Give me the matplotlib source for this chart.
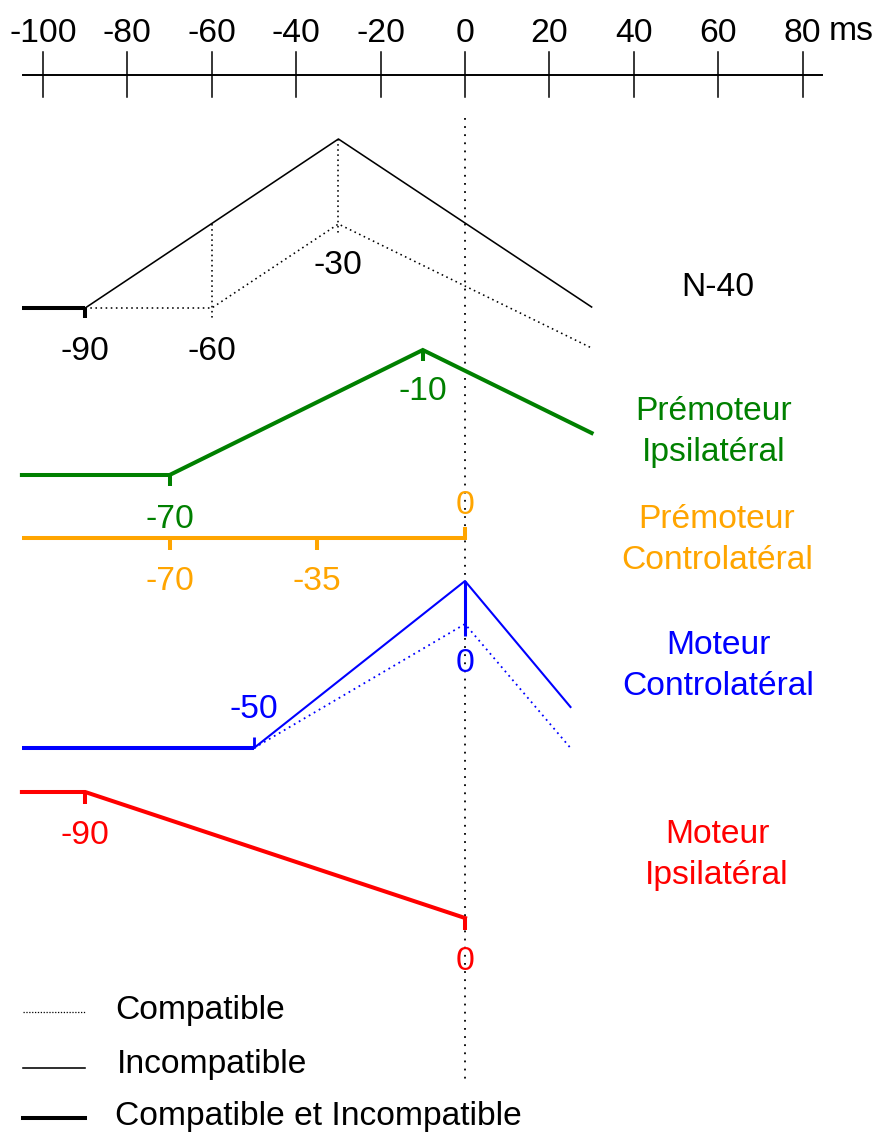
import matplotlib
matplotlib.use("Agg")
import matplotlib.pyplot as plt

plt.rcParams['font.family'] = ['Liberation Sans', 'DejaVu Sans']

# ---- data (ms) ----
axis_ticks = [-100, -80, -60, -40, -20, 0, 20, 40, 60, 80]

# N-40
n40_base_t = [-105, -90]
n40_incomp_t = [-90, -30, 30]
n40_incomp_a = [0, 169, 1]
n40_comp_t = [-90, -60, -30, 30]
n40_comp_a = [0, 0, 84, -40]
n40_labels = [-90, -60, -30]

# Prémoteur Ipsilatéral
pmi_t = [-105, -70, -10, 30]
pmi_a = [0, 0, 125, 42]
pmi_labels = [-70, -10]

# Prémoteur Controlatéral
pmc_t = [-105, 0]
pmc_a = [0, 0]
pmc_labels = [-70, -35, 0]

# Moteur Controlatéral
mc_base_t = [-105, -50]
mc_incomp_t = [-50, 0, 25]
mc_incomp_a = [0, 167, 41]
mc_comp_t = [-50, 0, 25]
mc_comp_a = [0, 124, 0]
mc_labels = [-50, 0]

# Moteur Ipsilatéral
mi_t = [-105, -90, 0]
mi_a = [0, 0, -126]
mi_labels = [-90, 0]

names = ["N-40", "Prémoteur\nIpsilatéral", "Prémoteur\nControlatéral",
         "Moteur\nControlatéral", "Moteur\nIpsilatéral"]
legend_labels = ["Compatible", "Incompatible", "Compatible et Incompatible"]

# ---- layout ----
W, H = 884, 1137
fig = plt.figure(figsize=(W / 100, H / 100), dpi=100)
ax = fig.add_axes([0, 0, 1, 1])
PX = 4.22  # px per ms
x0 = 465
ax.set_xlim(-x0 / PX, (W - x0) / PX)
ax.set_ylim(H, 0)
ax.axis('off')

FS = 24.2
THICK = 2.9
THIN = 1.15
DOT = (0, (1, 2.2))
LS2 = 1.38

GREEN = '#008000'
ORANGE = '#FFA500'
BLUE = '#0000FF'
RED = '#FF0000'

def px_to_ms(p):
    return (p - x0) / PX

# top axis
ax.plot([-104.7, 84.6], [75, 75], color='black', lw=1.4)
for t in axis_ticks:
    ax.plot([t, t], [52, 97], color='black', lw=1.1)
    ax.text(t, 33, str(t), ha='center', va='center', fontsize=FS)
ax.text(px_to_ms(851), 31, "ms", ha='center', va='center', fontsize=FS)

# zero dotted line
ax.plot([0, 0], [118, 1082], color='black', lw=1.3, linestyle=(0, (1, 3.5)))

def lvl(base, a):
    return [base - v for v in a]

# ---- N-40 ----
b = 308
ax.plot(n40_base_t, [b, b], color='black', lw=THICK, solid_capstyle='butt')
ax.plot([-90, -90], [b, b + 10], color='black', lw=THICK, solid_capstyle='butt')
ax.plot(n40_incomp_t, lvl(b, n40_incomp_a), color='black', lw=THIN)
ax.plot(n40_comp_t, lvl(b, n40_comp_a), color='black', lw=THIN, linestyle=DOT)
inc_at_m60 = b - n40_incomp_a[1] * (-60 - n40_incomp_t[0]) / (n40_incomp_t[1] - n40_incomp_t[0])
ax.plot([-60, -60], [inc_at_m60, b + 12], color='black', lw=THIN, linestyle=DOT)
ax.plot([-30, -30], [b - n40_incomp_a[1], b - n40_comp_a[2] + 11], color='black', lw=THIN, linestyle=DOT)
ax.text(n40_labels[0], 352, str(n40_labels[0]), ha='center', va='center', fontsize=FS)
ax.text(n40_labels[1], 352, str(n40_labels[1]), ha='center', va='center', fontsize=FS)
ax.text(n40_labels[2], 265, str(n40_labels[2]), ha='center', va='center', fontsize=FS)
ax.text(px_to_ms(718), 288, names[0], ha='center', va='center', fontsize=FS)

# ---- Prémoteur Ipsilatéral ----
b = 475
ax.plot(pmi_t, lvl(b, pmi_a), color=GREEN, lw=THICK, solid_joinstyle='miter')
ax.plot([-70, -70], [b, b + 11], color=GREEN, lw=THICK, solid_capstyle='butt')
ax.plot([-10, -10], [b - pmi_a[2], b - pmi_a[2] + 11], color=GREEN, lw=THICK, solid_capstyle='butt')
ax.text(pmi_labels[0], 520, str(pmi_labels[0]), ha='center', va='center', fontsize=FS, color=GREEN)
ax.text(pmi_labels[1], 392, str(pmi_labels[1]), ha='center', va='center', fontsize=FS, color=GREEN)
ax.text(px_to_ms(714), 432, names[1], ha='center', va='center', fontsize=FS, color=GREEN,
        linespacing=LS2)

# ---- Prémoteur Controlatéral ----
b = 538
ax.plot(pmc_t, lvl(b, pmc_a), color=ORANGE, lw=THICK, solid_capstyle='butt')
for t in pmc_labels[:2]:
    ax.plot([t, t], [b, b + 12], color=ORANGE, lw=THICK, solid_capstyle='butt')
    ax.text(t, 582, str(t), ha='center', va='center', fontsize=FS, color=ORANGE)
ax.plot([0, 0], [b + 1.5, b - 11], color=ORANGE, lw=THICK, solid_capstyle='butt')
ax.text(0, 505, str(pmc_labels[2]), ha='center', va='center', fontsize=FS, color=ORANGE)
ax.text(px_to_ms(717), 540, names[2], ha='center', va='center', fontsize=FS, color=ORANGE,
        linespacing=LS2)

# ---- Moteur Controlatéral ----
b = 748
ax.plot(mc_base_t, [b, b], color=BLUE, lw=THICK, solid_capstyle='butt')
ax.plot([-50, -50], [b, b - 11], color=BLUE, lw=THICK * 0.7, solid_capstyle='butt')
ax.plot(mc_incomp_t, lvl(b, mc_incomp_a), color=BLUE, lw=1.5)
ax.plot(mc_comp_t, lvl(b, mc_comp_a), color=BLUE, lw=1.3, linestyle=DOT)
ax.plot([0, 0], [b - mc_incomp_a[1], 636], color=BLUE, lw=2.2, solid_capstyle='butt')
ax.text(mc_labels[0], 710, str(mc_labels[0]), ha='center', va='center', fontsize=FS, color=BLUE)
ax.text(mc_labels[1], 664, str(mc_labels[1]), ha='center', va='center', fontsize=FS, color=BLUE)
ax.text(px_to_ms(718), 666, names[3], ha='center', va='center', fontsize=FS, color=BLUE,
        linespacing=LS2)

# ---- Moteur Ipsilatéral ----
b = 792
ax.plot(mi_t, lvl(b, mi_a), color=RED, lw=THICK, solid_joinstyle='miter')
ax.plot([-90, -90], [b, b + 12], color=RED, lw=THICK, solid_capstyle='butt')
ax.plot([0, 0], [b - mi_a[2], b - mi_a[2] + 12], color=RED, lw=THICK, solid_capstyle='butt')
ax.text(mi_labels[0], 835, str(mi_labels[0]), ha='center', va='center', fontsize=FS, color=RED)
ax.text(mi_labels[1], 962, str(mi_labels[1]), ha='center', va='center', fontsize=FS, color=RED)
ax.text(px_to_ms(717), 855, names[4], ha='center', va='center', fontsize=FS, color=RED,
        linespacing=LS2)

# ---- legend ----
lx = [px_to_ms(23), px_to_ms(85)]
ax.plot(lx, [1012, 1012], color='black', lw=0.9, linestyle=(0, (1, 1.3)))
ax.text(px_to_ms(115), 1010, legend_labels[0], ha='left', va='center', fontsize=FS)
ax.plot(lx, [1068, 1068], color='black', lw=THIN)
ax.text(px_to_ms(117), 1064, legend_labels[1], ha='left', va='center', fontsize=FS)
ax.plot(lx, [1118, 1118], color='black', lw=THICK)
ax.text(px_to_ms(115), 1117, legend_labels[2], ha='left', va='center', fontsize=FS)

fig.savefig("out.png", dpi=100)
